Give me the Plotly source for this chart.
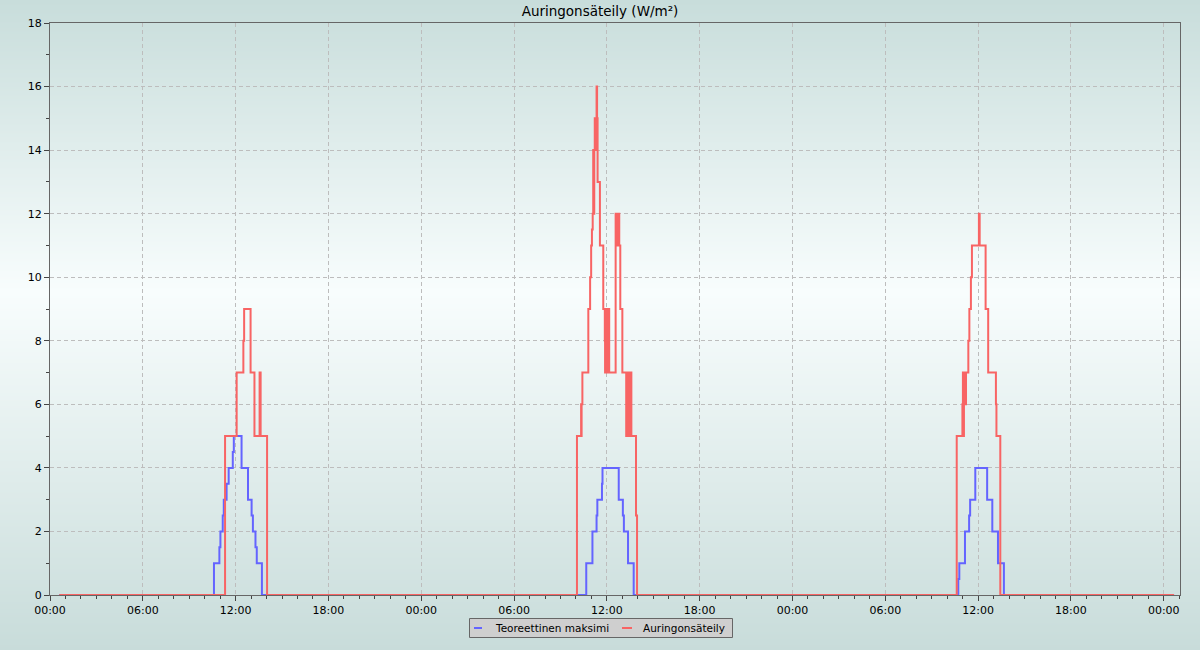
import base64
import struct
import zlib

import pandas as pd
import plotly.graph_objects as go

# ---------------- data ----------------
BASE_DATE = "2023-12-19"
DAY_COUNT = 3
SERIES_START = "00:36"
SERIES_END = "00:40"  # on the day after the last day

# Teoreettinen maksimi (change points, step "hv")
max_day1_times = ["10:36", "10:57", "11:01", "11:10", "11:14", "11:25", "11:33", "11:49", "11:53",
                  "12:23", "12:48", "13:02", "13:07", "13:17", "13:22", "13:42"]
max_day1_vals = [1, 1.5, 2, 2.5, 3, 3.5, 4, 4.5, 5, 4, 3, 2.5, 2, 1.5, 1, 0]

max_day2_times = ["10:40", "11:04", "11:20", "11:23", "11:41", "11:43", "12:46", "13:02", "13:06",
                  "13:22", "13:44"]
max_day2_vals = [1, 2, 2.5, 3, 3.5, 4, 3, 2.5, 2, 1, 0]

max_day3_times = ["10:43", "10:47", "11:09", "11:25", "11:29", "11:49", "12:35", "12:55", "13:17",
                  "13:40"]
max_day3_vals = [0.5, 1, 2, 2.5, 3, 4, 3, 2, 1, 0]

# Auringonsäteily (change points, step "hv")
rad_day1_times = ["11:19", "12:04", "12:30", "12:33", "12:58", "13:13", "13:33", "13:37", "14:02"]
rad_day1_vals = [5, 7, 8, 9, 7, 5, 7, 5, 0]

rad_day2_times = ["10:04", "10:20", "10:21", "10:22", "10:25", "10:48", "10:55", "10:59", "11:02",
                  "11:05", "11:07", "11:09", "11:11", "11:13", "11:17", "11:18", "11:20", "11:22",
                  "11:24", "11:33", "11:46", "11:52", "11:53", "11:55", "11:57", "11:59", "12:01",
                  "12:03", "12:05", "12:07", "12:09", "12:34", "12:36", "12:38", "12:40", "12:42",
                  "12:44", "12:46", "12:48", "12:52", "13:00", "13:15", "13:17", "13:19", "13:21",
                  "13:23", "13:25", "13:27", "13:29", "13:31", "13:33", "13:35", "13:53", "13:57"]
rad_day2_vals = [5, 6, 5, 6, 7, 9, 10, 11, 11.5,
                 12, 14, 12, 14, 15, 14, 15, 16, 15,
                 13, 11, 9, 8, 7, 9, 7, 9, 7,
                 9, 7, 9, 7, 12, 11, 12, 11, 12,
                 11, 12, 11, 9, 7, 5, 7, 5, 7,
                 5, 7, 5, 7, 5, 7, 5, 2.5, 0]

rad_day3_times = ["10:37", "10:59", "11:01", "11:03", "11:05", "11:07", "11:09", "11:11", "11:13",
                  "11:22", "11:26", "11:32", "11:36", "12:03", "12:06", "12:29", "12:39", "13:09",
                  "13:11", "13:26"]
rad_day3_vals = [5, 6, 7, 5, 7, 6, 7, 6, 7,
                 8, 9, 10, 11, 12, 11, 9, 7, 6,
                 5, 0]

Y_TICKS = list(range(0, 19, 2))
TITLE = "Auringonsäteily (W/m²)"
NAME_MAX = "Teoreettinen maksimi"
NAME_RAD = "Auringonsäteily"

# ---------------- build series ----------------
base = pd.Timestamp(BASE_DATE)


def build(day_lists):
    xs = [base + pd.Timedelta(SERIES_START + ":00")]
    ys = [0]
    for d, (times, vals) in enumerate(day_lists):
        for t, v in zip(times, vals):
            xs.append(base + pd.Timedelta(days=d) + pd.Timedelta(t + ":00"))
            ys.append(v)
    xs.append(base + pd.Timedelta(days=DAY_COUNT) + pd.Timedelta(SERIES_END + ":00"))
    ys.append(0)
    return xs, ys


x_max, y_max = build([(max_day1_times, max_day1_vals), (max_day2_times, max_day2_vals),
                      (max_day3_times, max_day3_vals)])
x_rad, y_rad = build([(rad_day1_times, rad_day1_vals), (rad_day2_times, rad_day2_vals),
                      (rad_day3_times, rad_day3_vals)])

# ---------------- layout geometry ----------------
W, H = 1200, 650
ML, MR, MT, MB = 50, 20, 23, 55
PW, PH = W - ML - MR, H - MT - MB


def px_x(px):
    return (px - ML) / PW


def px_y(py):
    return (H - MB - py) / PH


# ---------------- gradient background PNG ----------------
def grad_color(py):
    top = (200, 221, 219)
    mid = (248, 253, 253)
    bot = (200, 220, 218)
    mid_y = 292
    if py <= mid_y:
        t = py / mid_y
        a, b = top, mid
    else:
        t = (py - mid_y) / (H - mid_y)
        a, b = mid, bot
    return tuple(int(round(a[i] + (b[i] - a[i]) * t)) for i in range(3))


def png_uri(width, height):
    raw = b""
    for py in range(height):
        raw += b"\x00" + bytes(grad_color(py)) * width

    def chunk(tag, data):
        c = struct.pack(">I", len(data)) + tag + data
        return c + struct.pack(">I", zlib.crc32(tag + data) & 0xFFFFFFFF)

    png = b"\x89PNG\r\n\x1a\n"
    png += chunk(b"IHDR", struct.pack(">IIBBBBB", width, height, 8, 2, 0, 0, 0))
    png += chunk(b"IDAT", zlib.compress(raw, 9))
    png += chunk(b"IEND", b"")
    return "data:image/png;base64," + base64.b64encode(png).decode()


FONT = "DejaVu Sans"
BLUE = "rgb(100,100,255)"
RED = "rgb(248,100,100)"
TICK_SIZE = 11
TITLE_SIZE = 13.5
LEGEND_SIZE = 10.5

fig = go.Figure()
fig.add_trace(go.Scatter(x=x_max, y=y_max, mode="lines", line=dict(color=BLUE, width=2, shape="hv"),
                         name=NAME_MAX, showlegend=False))
fig.add_trace(go.Scatter(x=x_rad, y=y_rad, mode="lines", line=dict(color=RED, width=2, shape="hv"),
                         name=NAME_RAD, showlegend=False))

x_end = base + pd.Timedelta(hours=73.05)

fig.update_layout(
    width=W, height=H,
    margin=dict(l=ML, r=MR, t=MT, b=MB),
    paper_bgcolor="rgb(200,220,218)",
    plot_bgcolor="rgba(0,0,0,0)",
    font=dict(family=FONT, size=TICK_SIZE, color="black"),
    title=dict(text=TITLE, x=0.5, xref="container", xanchor="center",
               y=1 - 11 / H, yref="container", yanchor="middle",
               font=dict(family=FONT, size=TITLE_SIZE, color="black")),
    images=[dict(source=png_uri(4, H), xref="paper", yref="paper",
                 x=px_x(0), y=px_y(0), sizex=W / PW, sizey=H / PH,
                 xanchor="left", yanchor="top", sizing="stretch", layer="below")],
    xaxis=dict(type="date", range=[base, x_end], tick0=base, dtick=6 * 3600 * 1000,
               tickformat="%H:%M", ticks="outside", ticklen=5, tickcolor="#444",
               showgrid=True, gridcolor="#bdbdbd", griddash="4px,3px", gridwidth=1,
               showline=True, mirror=True, linecolor="#666", linewidth=1, zeroline=False,
               tickfont=dict(family=FONT, size=TICK_SIZE, color="black"),
               minor=dict(dtick=3600 * 1000, ticks="outside", ticklen=3, tickcolor="#444",
                          showgrid=False)),
    yaxis=dict(range=[0, 18], tickvals=Y_TICKS, ticks="outside", ticklen=5, tickcolor="#444",
               showgrid=True, gridcolor="#bdbdbd", griddash="4px,3px", gridwidth=1,
               showline=True, mirror=True, linecolor="#666", linewidth=1, zeroline=False,
               tickfont=dict(family=FONT, size=TICK_SIZE, color="black"),
               minor=dict(dtick=1, ticks="outside", ticklen=3, tickcolor="#444", showgrid=False)),
    showlegend=False,
)

# ---------------- manual legend ----------------
shapes = [
    dict(type="rect", xref="paper", yref="paper", x0=px_x(469.5), x1=px_x(732.5),
         y0=px_y(637.5), y1=px_y(618.5), fillcolor="#cfcfcf",
         line=dict(color="#666", width=1), layer="above"),
    dict(type="line", xref="paper", yref="paper", x0=px_x(474), x1=px_x(482),
         y0=px_y(628), y1=px_y(628), line=dict(color=BLUE, width=2)),
    dict(type="line", xref="paper", yref="paper", x0=px_x(622), x1=px_x(632),
         y0=px_y(628), y1=px_y(628), line=dict(color=RED, width=2)),
]
fig.update_layout(shapes=shapes)
fig.add_annotation(text=NAME_MAX, xref="paper", yref="paper", x=px_x(493), y=px_y(628),
                   xanchor="left", yanchor="middle", showarrow=False,
                   font=dict(family=FONT, size=LEGEND_SIZE, color="black"))
fig.add_annotation(text=NAME_RAD, xref="paper", yref="paper", x=px_x(641), y=px_y(628),
                   xanchor="left", yanchor="middle", showarrow=False,
                   font=dict(family=FONT, size=LEGEND_SIZE, color="black"))

fig.write_html("out.html", config={"displayModeBar": False},
               post_script="document.body.style.margin='0';")
